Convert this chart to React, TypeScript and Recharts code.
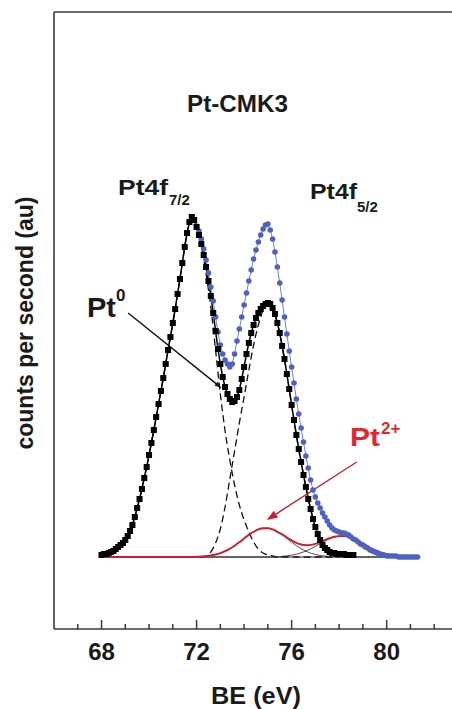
import { LineChart, Line, XAxis, YAxis, ReferenceLine } from "recharts";

// binding energy grids (eV) — instrument step for data, coarser step for fit curves
const DATA_START = 68.0;
const DATA_STEP = 0.1;
const FIT_START = 68.0;
const FIT_STEP = 0.2;

// black squares: Pt0 envelope
const pt0Envelope = [
  2, 3, 3, 4, 5, 6, 8, 10, 12, 14,
  17, 21, 26, 32, 40, 49, 58, 68, 79, 90,
  102, 114, 127, 140, 153, 166, 179, 193, 207, 220,
  234, 248, 263, 278, 294, 310, 324, 335, 340, 337,
  330, 322, 313, 302, 290, 276, 261, 244, 226, 208,
  193, 180, 170, 163, 158, 155, 156, 160, 167, 178,
  190, 203, 214, 224, 232, 239, 244, 248, 251, 253,
  254, 253, 249, 243, 234, 224, 211, 198, 183, 168,
  152, 137, 122, 108, 95, 82, 70, 58, 48, 38,
  30, 23, 17, 12, 9, 7, 5, 4, 4, 3,
  3, 3, 3, 2, 2, 2, 2,
];

// blue circles: measured spectrum
const measured = [
  2, 3, 3, 4, 5, 6, 8, 10, 12, 14,
  17, 21, 26, 32, 40, 49, 58, 68, 79, 90,
  102, 114, 127, 140, 153, 166, 179, 193, 207, 220,
  234, 248, 263, 278, 294, 310, 324, 335, 340, 337,
  331, 326, 318, 308, 297, 284, 270, 256, 240, 225,
  212, 203, 197, 193, 190, 193, 203, 216, 228, 240,
  252, 264, 276, 287, 298, 307, 315, 322, 328, 332,
  333, 327, 318, 305, 290, 274, 257, 240, 223, 206,
  190, 174, 158, 143, 129, 115, 101, 89, 77, 67,
  60, 54, 49, 44, 40, 36, 32, 29, 27, 26,
  25, 24, 24, 23, 22, 20, 18, 17, 15, 13,
  12, 10, 9, 7, 6, 5, 4, 3, 2, 2,
  1, 1, 1, 1, 1, 0, 0, 0, 0, 0,
  0, 0, 0, 0,
];

// dashed: Pt0 4f7/2 and 4f5/2 components
const pt0Peak72 = [
  2, 3, 5, 8, 12, 17, 26, 40, 58, 79,
  102, 127, 153, 179, 207, 234, 263, 294, 324, 340,
  331, 311, 283, 250, 207, 163, 126, 97, 72, 52,
  37, 25, 15, 8, 4, 2, 1, 0, 0, 0,
  0, 0, 0, 0, 0, 0, 0, 0, 0, 0, 0,
];
const pt0Peak75 = [
  0, 0, 0, 0, 0, 0, 0, 0, 0, 0,
  0, 0, 0, 0, 0, 0, 0, 0, 0, 0,
  0, 0, 1, 5, 14, 28, 50, 78, 106, 134,
  160, 187, 212, 232, 247, 254, 249, 234, 211, 183,
  152, 122, 95, 70, 48, 30, 17, 9, 5, 3, 2,
];

// thin black: Pt2+ components, red: their sum
const pt2Peak75 = [
  0, 0, 0, 0, 0, 0, 0, 0, 0, 0,
  0, 0, 0, 0, 0, 0, 0, 0, 0, 0,
  0.3, 0.5, 0.9, 1.5, 2.5, 3.9, 5.8, 8.3, 11.3, 14.8,
  18.5, 22.1, 25.2, 27.6, 28.8, 28.8, 27.6, 25.2, 22.1, 18.5,
  14.8, 11.3, 8.3, 5.8, 3.9, 2.5, 1.5, 0.9, 0.5, 0.3,
  0, 0, 0, 0, 0, 0, 0, 0, 0, 0,
  0, 0, 0, 0, 0, 0, 0,
];
const pt2Peak78 = [
  0, 0, 0, 0, 0, 0, 0, 0, 0, 0,
  0, 0, 0, 0, 0, 0, 0, 0, 0, 0,
  0, 0, 0, 0, 0, 0, 0, 0, 0, 0,
  0, 0, 0, 0, 0, 0, 0, 0, 0.7, 1.1,
  1.8, 2.8, 4.2, 6.0, 8.2, 10.7, 13.4, 16.0, 18.3, 20.0,
  20.9, 20.9, 20.0, 18.3, 16.0, 13.4, 10.7, 8.2, 6.0, 4.2,
  2.8, 1.8, 1.1, 0.7, 0.4, 0.2, 0,
];
const pt2Sum = [
  0, 0, 0, 0, 0, 0, 0, 0, 0, 0,
  0, 0, 0, 0, 0, 0, 0, 0, 0, 0,
  0.3, 0.5, 0.9, 1.5, 2.5, 3.9, 5.8, 8.3, 11.3, 14.8,
  18.5, 22.1, 25.2, 27.6, 28.8, 28.8, 27.6, 25.2, 22.8, 19.6,
  16.6, 14.1, 12.5, 11.8, 12.1, 13.2, 14.9, 16.9, 18.8, 20.3,
  20.9, 20.9, 20.0, 18.3, 16.0, 13.4, 10.7, 8.2, 6.0, 4.2,
  2.8, 1.8, 1.1, 0.7, 0.4, 0.2, 0,
];

const backgroundBE = [68.0, 81.3];
const background = [0, 0];

const tickValues = [67, 68, 69, 70, 71, 72, 73, 74, 75, 76, 77, 78, 79, 80, 81, 82];
const labelledTicks = [68, 72, 76, 80];

// annotation arrows (BE, counts)
const pt0Arrow = [{ x: 69.12, y: 244 }, { x: 73.05, y: 169 }];
const pt2Arrow = [{ x: 78.74, y: 95 }, { x: 74.95, y: 37 }];

const onGrid = (start: number, step: number, ys: number[]) =>
  ys.map((y, i) => ({ x: +(start + i * step).toFixed(1), y }));

const FONT = '"Liberation Sans", Arial, sans-serif';
const AXIS = "#3a3a3a";
const BLUE = "#4d62c0";
const RED = "#cc1f29";

function BETick({ x, y, payload }: any) {
  const major = labelledTicks.includes(payload.value);
  return (
    <g>
      <line x1={x} x2={x} y1={y} y2={y - (major ? 9 : 5)} stroke={AXIS} strokeWidth={1.5} />
      {major && (
        <text x={x} y={y + 31} textAnchor="middle" fontFamily={FONT} fontWeight="bold" fontSize={24} fill="#1a1a1a">
          {payload.value}
        </text>
      )}
    </g>
  );
}

const arrow = (color: string, head: number, wing: number) => (p: any) => {
  const { x1, y1, x2, y2 } = p;
  const a = Math.atan2(y2 - y1, x2 - x1);
  const bx = x2 - head * Math.cos(a);
  const by = y2 - head * Math.sin(a);
  const nx = -Math.sin(a) * wing;
  const ny = Math.cos(a) * wing;
  return (
    <g>
      <line x1={x1} y1={y1} x2={bx} y2={by} stroke={color} strokeWidth={1.4} />
      <polygon points={`${x2},${y2} ${bx + nx},${by + ny} ${bx - nx},${by - ny}`} fill={color} />
    </g>
  );
};

const Square = (p: any) => (
  <rect key={p.index} x={p.cx - 3} y={p.cy - 3} width={6} height={6} fill="#000" />
);

export default function App() {
  const txt = { fontFamily: FONT, fontWeight: "bold" as const, fill: "#1a1a1a" };
  return (
    <div style={{ position: "absolute", left: 0, top: 0, width: 452, height: 709 }}>
      <LineChart width={452} height={709} margin={{ top: 12, right: 0, bottom: 0, left: 0 }}>
        <XAxis
          dataKey="x"
          type="number"
          domain={[66, 82.75]}
          allowDataOverflow
          ticks={tickValues}
          interval={0}
          height={80}
          tickSize={0}
          tickMargin={0}
          tickLine={false}
          axisLine={{ stroke: AXIS, strokeWidth: 1.6 }}
          tick={<BETick />}
        />
        <YAxis
          type="number"
          domain={[-72, 545]}
          allowDataOverflow
          width={54}
          tick={false}
          tickLine={false}
          axisLine={{ stroke: AXIS, strokeWidth: 1.6 }}
        />
        <ReferenceLine y={545} stroke={AXIS} strokeWidth={1.6} />

        <Line data={onGrid(DATA_START, DATA_STEP, measured)} dataKey="y" type="linear" stroke={BLUE} strokeWidth={0.8}
          dot={{ r: 2.8, fill: BLUE, stroke: "none" }} activeDot={false} isAnimationActive={false} />
        <Line data={onGrid(FIT_START, FIT_STEP, pt0Peak72)} dataKey="y" type="monotone" stroke="#111" strokeWidth={1.3}
          strokeDasharray="7 4" dot={false} activeDot={false} isAnimationActive={false} />
        <Line data={onGrid(FIT_START, FIT_STEP, pt0Peak75)} dataKey="y" type="monotone" stroke="#111" strokeWidth={1.3}
          strokeDasharray="7 4" dot={false} activeDot={false} isAnimationActive={false} />
        <Line data={onGrid(FIT_START, FIT_STEP, pt2Peak75)} dataKey="y" type="monotone" stroke="#222" strokeWidth={0.8}
          dot={false} activeDot={false} isAnimationActive={false} />
        <Line data={onGrid(FIT_START, FIT_STEP, pt2Peak78)} dataKey="y" type="monotone" stroke="#222" strokeWidth={0.8}
          dot={false} activeDot={false} isAnimationActive={false} />
        <Line data={backgroundBE.map((x, i) => ({ x, y: background[i] }))} dataKey="y" type="linear" stroke="#222"
          strokeWidth={1.2} dot={false} activeDot={false} isAnimationActive={false} />
        <Line data={onGrid(FIT_START, FIT_STEP, pt2Sum)} dataKey="y" type="monotone" stroke={RED} strokeWidth={1.9}
          dot={false} activeDot={false} isAnimationActive={false} />
        <Line data={onGrid(DATA_START, DATA_STEP, pt0Envelope)} dataKey="y" type="linear" stroke="#000" strokeWidth={1.5}
          dot={Square} activeDot={false} isAnimationActive={false} />

        <ReferenceLine segment={pt0Arrow} stroke="#111" shape={arrow("#111", 7, 2.5)} />
        <ReferenceLine segment={pt2Arrow} stroke={RED} shape={arrow(RED, 11, 4)} />
      </LineChart>

      <svg width={452} height={709} style={{ position: "absolute", left: 0, top: 0, pointerEvents: "none" }}>
        <text x={187} y={112} fontSize={24} textLength={101} lengthAdjust="spacingAndGlyphs" {...txt}>Pt-CMK3</text>

        <text x={118} y={195} fontSize={22} textLength={50} lengthAdjust="spacingAndGlyphs" {...txt}>Pt4f</text>
        <text x={169} y={205} fontSize={15} {...txt}>7/2</text>

        <text x={310} y={199} fontSize={22} textLength={47} lengthAdjust="spacingAndGlyphs" {...txt}>Pt4f</text>
        <text x={357} y={212} fontSize={15} {...txt}>5/2</text>

        <text x={87} y={317} fontSize={28} textLength={29} lengthAdjust="spacingAndGlyphs" {...txt}>Pt</text>
        <text x={116} y={301} fontSize={17} {...txt}>0</text>

        <text x={350} y={446} fontSize={26} textLength={30} lengthAdjust="spacingAndGlyphs" {...txt} fill="#e3262e">Pt</text>
        <text x={381} y={434} fontSize={17} {...txt} fill="#e3262e">2+</text>

        <text x={33} y={323} transform="rotate(-90 33 323)" textAnchor="middle" fontSize={23} {...txt}>
          counts per second (au)
        </text>
        <text x={256} y={704} textAnchor="middle" fontSize={24} textLength={90} lengthAdjust="spacingAndGlyphs" {...txt}>
          BE (eV)
        </text>
      </svg>
    </div>
  );
}
